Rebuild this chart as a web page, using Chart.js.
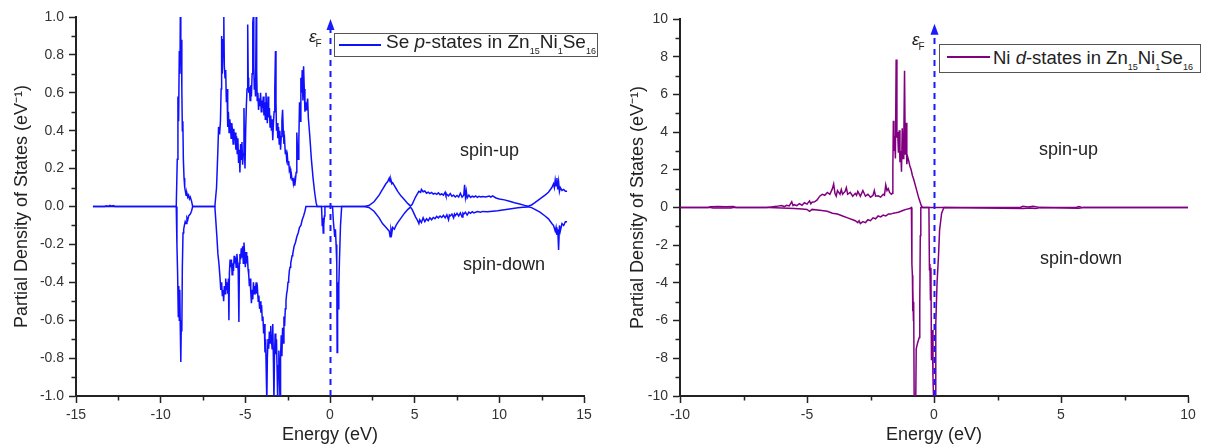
<!DOCTYPE html>
<html>
<head>
<meta charset="utf-8">
<title>Partial density of states: Zn15Ni1Se16</title>
<script src="https://cdn.jsdelivr.net/npm/chart.js@4.4.1/dist/chart.umd.min.js"></script>
<style>
  html, body { margin: 0; padding: 0; background: #fff; }
  body { width: 1205px; height: 446px; position: relative; overflow: hidden;
         font-family: "Liberation Sans", Arial, sans-serif; color: #222; }
  canvas { position: absolute; top: 0; }
  #pdosSe { left: 0; }
  #pdosNi { left: 604px; }
  .legend { position: absolute; border: 1px solid #555; background: #fff; box-sizing: border-box; white-space: nowrap; }
  .legend .sw { position: absolute; height: 2px; }
  .legend .tx { position: absolute; line-height: 22px; }
  .legend .sb { font-size: 9px; position: relative; top: 6px; }
  .note { position: absolute; font-size: 18px; line-height: 20px; white-space: nowrap; color: #222; }
  .ef { position: absolute; font-style: italic; font-size: 17px; line-height: 20px; color: #222; }
  .ef span { font-style: normal; font-size: 10px; position: relative; top: 5px; left: -1px; }
</style>
</head>
<body>
<canvas id="pdosSe" width="600" height="446"></canvas>
<canvas id="pdosNi" width="601" height="446"></canvas>

<div class="legend" style="left:334px;top:33px;width:264px;height:24px;">
  <div class="sw" style="left:4px;top:10px;width:42px;background:#1010ff;"></div>
  <div class="tx" style="left:51px;top:-3px;font-size:19px;">Se <i>p</i>-states in Zn<span class="sb">15</span>Ni<span class="sb">1</span>Se<span class="sb">16</span></div>
</div>
<div class="legend" style="left:939px;top:44px;width:262px;height:29px;">
  <div class="sw" style="left:7px;top:11px;width:43px;background:#800080;"></div>
  <div class="tx" style="left:53px;top:2px;font-size:18.5px;">Ni <i>d</i>-states in Zn<span class="sb">15</span>Ni<span class="sb">1</span>Se<span class="sb">16</span></div>
</div>

<div class="ef" style="left:309px;top:27px;">ε<span>F</span></div>
<div class="ef" style="left:912px;top:30px;">ε<span>F</span></div>

<div class="note" style="left:460px;top:140px;">spin-up</div>
<div class="note" style="left:463px;top:254px;">spin-down</div>
<div class="note" style="left:1039px;top:139px;">spin-up</div>
<div class="note" style="left:1040px;top:248px;">spin-down</div>

<script>
// Energies (eV) and partial DOS values (states/eV) for Se p-states, spin-up
const seUpE = [-14.0,-13.3,-13.2,-13.1,-13.0,-12.9,-12.8,-12.7,-9.08,-9.02,-8.98,-8.94,-8.9,-8.86,-8.84,-8.81,-8.78,-8.75,-8.72,-8.69,-8.66,-8.62,-8.58,-8.54,-8.5,-8.45,-8.4,-8.35,-8.3,-8.25,-8.18,-8.11,
  -6.8,-6.7,-6.62,-6.58,-6.52,-6.47,-6.43,-6.4,-6.36,-6.31,-6.27,-6.24,-6.2,-6.16,-6.12,-6.08,-6.04,-6.0,-5.96,-5.92,-5.88,-5.84,-5.8,-5.76,-5.72,-5.68,-5.64,-5.6,-5.56,-5.52,-5.48,-5.44,-5.4,-5.36,-5.32,-5.28,-5.24,-5.2,-5.16,-5.12,-5.08,-5.05,-5.02,-4.98,-4.94,-4.9,-4.86,-4.83,-4.8,-4.76,-4.72,-4.68,-4.64,-4.6,-4.56,-4.53,-4.5,-4.47,-4.44,-4.4,-4.36,-4.33,-4.3,-4.26,-4.22,-4.18,-4.14,-4.1,-4.06,-4.02,-3.98,-3.94,-3.9,-3.86,-3.82,-3.78,-3.74,-3.7,-3.66,-3.62,-3.58,-3.54,-3.5,-3.46,-3.42,-3.38,-3.34,-3.3,-3.26,-3.22,-3.19,-3.16,-3.12,-3.08,-3.04,-3.0,-2.96,-2.92,-2.88,-2.84,-2.8,-2.76,-2.72,-2.68,-2.64,-2.6,-2.56,-2.52,-2.48,-2.44,-2.4,-2.36,-2.32,-2.28,-2.24,-2.2,-2.16,-2.12,-2.08,-2.04,-2.0,-1.96,-1.92,-1.88,-1.84,-1.8,-1.76,-1.72,-1.68,-1.64,-1.6,-1.56,-1.52,-1.48,-1.44,-1.4,-1.36,-1.32,-1.28,-1.2,-1.1,-1.0,-0.9,-0.82,-0.76,
  2.0,2.3,2.6,2.9,3.1,3.3,3.4,3.5,3.55,3.6,3.65,3.7,3.8,3.9,4.0,4.2,4.4,4.6,4.75,4.85,4.95,5.05,5.15,5.25,5.35,5.4,5.5,5.6,5.7,5.8,5.9,6.0,6.1,6.2,6.3,6.4,6.5,6.6,6.7,6.8,6.85,6.9,7.0,7.1,7.2,7.3,7.4,7.5,7.6,7.7,7.8,7.9,7.95,8.0,8.05,8.1,8.2,8.3,8.4,8.5,8.6,8.7,8.8,8.9,9.0,9.2,9.4,9.5,9.6,9.8,10.0,10.3,10.6,10.9,11.2,11.5,11.7,11.9,12.1,12.4,12.7,12.9,13.1,13.2,13.25,13.3,13.35,13.4,13.45,13.5,13.55,13.6,13.7,13.8,13.9,14.0];
const seUpV = [0,0,0.004,0,0.006,0.002,0.005,0,0,0.25,0.58,0.45,0.82,0.7,1.0,0.75,0.88,0.62,0.4,0.45,0.25,0.15,0.1,0.08,0.06,0.07,0.05,0.06,0.04,0.05,0.03,0,
  0,0.1,0.3,0.42,0.38,0.45,0.62,0.9,0.7,0.88,1.0,0.74,0.68,0.72,0.55,0.62,0.42,0.5,0.39,0.46,0.43,0.36,0.44,0.4,0.33,0.41,0.35,0.39,0.3,0.37,0.28,0.36,0.23,0.3,0.18,0.33,0.25,0.34,0.22,0.28,0.52,0.3,0.2,0.4,0.53,0.62,0.96,0.68,0.6,0.63,0.56,0.64,0.58,0.7,0.97,1.0,0.74,0.62,0.68,0.58,1.0,0.72,0.56,0.6,0.51,0.57,0.53,0.6,0.5,0.56,0.52,0.58,0.48,0.55,0.46,0.6,0.5,0.44,0.58,0.47,0.52,0.42,0.48,0.4,0.46,0.35,0.44,0.5,0.62,0.82,0.55,0.4,0.44,0.36,0.42,0.33,0.4,0.3,0.37,0.45,0.51,0.4,0.33,0.35,0.28,0.3,0.25,0.27,0.22,0.24,0.19,0.2,0.16,0.17,0.14,0.15,0.12,0.14,0.11,0.14,0.18,0.39,0.3,0.25,0.35,0.55,0.45,0.68,0.6,0.72,0.56,0.74,0.62,0.5,0.55,0.51,0.54,0.57,0.47,0.38,0.25,0.15,0.07,0.02,0,
  0,0.005,0.025,0.06,0.09,0.12,0.13,0.15,0.13,0.14,0.12,0.125,0.11,0.095,0.08,0.055,0.035,0.015,0.003,0.01,0.03,0.05,0.065,0.08,0.075,0.09,0.078,0.082,0.07,0.076,0.068,0.074,0.066,0.07,0.064,0.072,0.062,0.067,0.06,0.075,0.058,0.064,0.056,0.068,0.054,0.06,0.05,0.058,0.05,0.07,0.05,0.06,0.115,0.05,0.08,0.045,0.06,0.048,0.055,0.05,0.056,0.048,0.054,0.05,0.053,0.05,0.055,0.05,0.056,0.045,0.04,0.035,0.028,0.02,0.013,0.006,0.002,0.008,0.02,0.04,0.06,0.075,0.1,0.12,0.1,0.14,0.11,0.15,0.09,0.13,0.08,0.1,0.085,0.09,0.08,0.08];

// Se p-states, spin-down
const seDnE = [-14.0,-9.08,-9.04,-9.0,-8.96,-8.93,-8.9,-8.87,-8.84,-8.81,-8.78,-8.75,-8.72,-8.68,-8.64,-8.6,-8.55,-8.5,-8.45,-8.4,-8.35,-8.3,-8.25,-8.18,-8.11,
  -6.8,-6.74,-6.68,-6.62,-6.56,-6.5,-6.45,-6.4,-6.36,-6.32,-6.28,-6.24,-6.2,-6.16,-6.12,-6.08,-6.04,-6.0,-5.97,-5.94,-5.9,-5.86,-5.82,-5.78,-5.74,-5.7,-5.66,-5.62,-5.58,-5.54,-5.5,-5.46,-5.42,-5.38,-5.35,-5.32,-5.28,-5.24,-5.2,-5.16,-5.12,-5.08,-5.04,-5.0,-4.96,-4.92,-4.88,-4.84,-4.8,-4.76,-4.72,-4.68,-4.64,-4.6,-4.56,-4.52,-4.48,-4.44,-4.4,-4.36,-4.32,-4.28,-4.24,-4.2,-4.16,-4.12,-4.08,-4.04,-4.0,-3.96,-3.92,-3.88,-3.84,-3.8,-3.76,-3.73,-3.7,-3.66,-3.62,-3.58,-3.54,-3.5,-3.46,-3.42,-3.38,-3.34,-3.31,-3.28,-3.24,-3.2,-3.16,-3.12,-3.09,-3.06,-3.02,-2.98,-2.95,-2.92,-2.88,-2.84,-2.8,-2.76,-2.72,-2.68,-2.64,-2.6,-2.56,-2.52,-2.48,-2.44,-2.4,-2.36,-2.32,-2.28,-2.24,-2.2,-2.12,-2.04,-1.96,-1.88,-1.8,-1.72,-1.64,-1.56,-1.48,-1.42,
  -0.5,-0.46,-0.43,-0.4,-0.37,-0.33,-0.3,0.15,0.2,0.24,0.28,0.32,0.36,0.4,0.42,0.45,0.48,0.52,0.56,0.62,0.69,
  2.0,2.3,2.6,2.9,3.1,3.3,3.4,3.5,3.55,3.6,3.65,3.7,3.8,3.9,4.0,4.2,4.4,4.6,4.75,4.85,4.95,5.05,5.15,5.25,5.3,5.4,5.5,5.6,5.7,5.8,5.9,6.0,6.1,6.2,6.3,6.4,6.5,6.6,6.7,6.8,6.9,7.0,7.05,7.1,7.2,7.3,7.35,7.4,7.5,7.6,7.7,7.8,7.85,7.9,8.0,8.1,8.2,8.3,8.4,8.5,8.7,8.9,9.0,9.3,9.6,9.9,10.2,10.5,10.8,11.1,11.4,11.7,11.9,12.1,12.4,12.7,12.9,13.1,13.2,13.3,13.35,13.4,13.45,13.5,13.55,13.6,13.7,13.8,13.9,14.0];
const seDnV = [0,0,-0.2,-0.35,-0.58,-0.42,-0.6,-0.44,-0.65,-0.82,-0.6,-0.66,-0.32,-0.14,-0.12,-0.1,-0.08,-0.09,-0.06,-0.07,-0.05,-0.045,-0.04,-0.025,0,
  0,-0.08,-0.16,-0.25,-0.3,-0.37,-0.44,-0.4,-0.47,-0.44,-0.5,-0.42,-0.46,-0.38,-0.44,-0.4,-0.46,-0.38,-0.6,-0.35,-0.28,-0.32,-0.28,-0.36,-0.3,-0.34,-0.26,-0.3,-0.27,-0.32,-0.25,-0.29,-0.34,-0.61,-0.3,-0.25,-0.28,-0.22,-0.27,-0.21,-0.3,-0.19,-0.25,-0.32,-0.24,-0.3,-0.26,-0.33,-0.36,-0.42,-0.38,-0.45,-0.51,-0.44,-0.49,-0.4,-0.46,-0.42,-0.44,-0.4,-0.46,-0.44,-0.5,-0.47,-0.54,-0.5,-0.56,-0.52,-0.6,-0.58,-0.67,-0.62,-0.77,-0.7,-0.9,-1.03,-0.8,-0.7,-0.75,-0.66,-0.72,-0.63,-0.7,-0.75,-0.62,-0.82,-1.03,-0.8,-0.67,-0.78,-0.7,-0.88,-1.03,-0.84,-0.76,-0.92,-1.03,-0.8,-0.68,-0.79,-0.64,-0.72,-0.58,-0.63,-0.54,-0.5,-0.46,-0.44,-0.4,-0.38,-0.34,-0.32,-0.3,-0.28,-0.26,-0.25,-0.21,-0.19,-0.16,-0.14,-0.11,-0.1,-0.07,-0.05,-0.025,0,
  0,-0.1,-0.06,-0.14,-0.1,-0.05,0,0,-0.08,-0.12,-0.16,-0.12,-0.2,-0.3,-0.77,-0.4,-0.54,-0.42,-0.28,-0.1,0,
  0,-0.005,-0.025,-0.06,-0.09,-0.11,-0.12,-0.13,-0.16,-0.12,-0.14,-0.11,-0.12,-0.1,-0.085,-0.06,-0.035,-0.015,-0.003,-0.015,-0.035,-0.055,-0.07,-0.09,-0.07,-0.085,-0.06,-0.08,-0.065,-0.075,-0.06,-0.07,-0.058,-0.064,-0.052,-0.06,-0.05,-0.058,-0.046,-0.06,-0.044,-0.07,-0.045,-0.05,-0.04,-0.06,-0.04,-0.048,-0.036,-0.05,-0.034,-0.055,-0.035,-0.04,-0.03,-0.045,-0.03,-0.036,-0.028,-0.034,-0.027,-0.03,-0.026,-0.028,-0.025,-0.022,-0.018,-0.014,-0.01,-0.007,-0.004,-0.002,-0.006,-0.015,-0.03,-0.05,-0.065,-0.09,-0.1,-0.13,-0.11,-0.15,-0.12,-0.23,-0.1,-0.13,-0.09,-0.1,-0.08,-0.08];

// Ni d-states, spin-up
const niUpE = [-10,-8.9,-8.8,-8.5,-8.2,-7.9,-7.8,-6.6,-6.4,-6.2,-6.0,-5.9,-5.8,-5.7,-5.6,-5.55,-5.5,-5.4,-5.3,-5.2,-5.1,-5.0,-4.9,-4.85,-4.8,-4.7,-4.6,-4.5,-4.4,-4.3,-4.2,-4.1,-4.0,-3.95,-3.9,-3.85,-3.8,-3.7,-3.65,-3.6,-3.5,-3.45,-3.4,-3.3,-3.2,-3.1,-3.05,-3.0,-2.9,-2.85,-2.8,-2.7,-2.6,-2.5,-2.4,-2.35,-2.3,-2.2,-2.1,-2.0,-1.95,-1.9,-1.85,-1.8,-1.75,-1.68,-1.64,-1.62,-1.6,-1.58,-1.55,-1.52,-1.49,-1.46,-1.43,-1.4,-1.37,-1.34,-1.31,-1.28,-1.25,-1.22,-1.19,-1.16,-1.13,-1.1,-1.07,-1.04,-1.0,-0.95,-0.9,-0.85,-0.8,-0.7,-0.6,-0.5,-0.45,
  3.4,3.5,3.7,3.9,4.1,4.2,5.6,5.7,5.8,5.9,10];
const niUpV = [0,0,0.04,0.05,0.04,0.05,0,0,0.03,0.06,0.1,0.05,0.12,0.08,0.3,0.1,0.15,0.1,0.2,0.12,0.25,0.18,0.35,0.2,0.28,0.3,0.4,0.6,0.7,0.65,0.8,0.7,1.0,1.25,0.75,0.6,0.9,0.7,0.95,0.7,0.85,1.05,0.7,0.8,0.6,0.75,0.65,0.85,0.6,0.75,0.9,0.6,0.7,0.55,0.65,0.9,0.6,0.62,0.55,0.7,0.65,1.2,0.9,1.0,0.8,0.7,0.75,2.0,4.6,3.0,3.8,2.6,7.85,3.7,4.0,2.9,4.1,2.4,3.0,1.9,4.2,2.6,3.4,7.25,2.8,4.5,2.3,2.7,2.5,2.2,2.0,1.7,1.5,1.0,0.5,0.1,0,
  0,0.06,0.03,0.06,0.02,0,0,0.05,0.02,0,0];

// Ni d-states, spin-down
const niDnE = [-10,-8.8,-8.7,-8.0,-7.9,-6.5,-6.0,-5.5,-5.2,-5.0,-4.9,-4.8,-4.5,-4.2,-4.0,-3.8,-3.6,-3.4,-3.2,-3.1,-3.0,-2.95,-2.9,-2.8,-2.7,-2.6,-2.5,-2.4,-2.3,-2.2,-2.1,-2.0,-1.9,-1.8,-1.7,-1.6,-1.5,-1.4,-1.3,-1.2,-1.1,-0.95,-0.89,
  -0.87,-0.85,-0.84,-0.83,-0.81,-0.8,-0.78,-0.72,-0.7,-0.65,-0.58,-0.56,-0.54,-0.52,-0.2,-0.18,-0.16,-0.14,-0.12,-0.1,-0.07,-0.04,-0.01,0.04,0.07,0.12,0.18,0.22,0.3,0.39,
  3.5,3.8,4.0,4.2,5.7,5.9,10];
const niDnV = [0,0,-0.03,-0.03,0,0,-0.02,-0.05,-0.08,-0.1,-0.2,-0.1,-0.15,-0.2,-0.3,-0.35,-0.45,-0.55,-0.65,-0.7,-0.8,-0.7,-0.85,-0.75,-0.8,-0.65,-0.7,-0.55,-0.6,-0.45,-0.5,-0.4,-0.45,-0.35,-0.35,-0.3,-0.28,-0.25,-0.2,-0.15,-0.1,-0.05,0,
  -3.0,-3.6,-5.5,-4.2,-6.0,-5.0,-10.5,-10.5,-7.5,-7.2,-6.9,-5.0,-1.5,0,0,-3.3,-3.0,-4.9,-3.2,-8.1,-6.5,-9.0,-10.5,-10.5,-6.2,-4.0,-2.5,-1.2,-0.3,0,
  -0.05,-0.03,-0.05,0,-0.04,0,0];

const FONT = '"Liberation Sans", Arial, sans-serif';
const AXIS = '#222';
const TICK_TEXT = '#333';
const FERMI_BLUE = '#1a1aff';

const pairs = (e, v) => e.map((x, i) => ({ x, y: v[i] }));

// Short ticks halfway between the labelled ones
const minorTicks = {
  id: 'minorTicks',
  afterDraw(chart) {
    const { ctx, chartArea: a, scales: { x, y } } = chart;
    ctx.save();
    ctx.strokeStyle = AXIS;
    ctx.lineWidth = 1.5;
    ctx.beginPath();
    for (let i = 0; i < x.ticks.length - 1; i++) {
      const px = Math.round(x.getPixelForValue((x.ticks[i].value + x.ticks[i + 1].value) / 2)) + 0.5;
      ctx.moveTo(px, a.bottom); ctx.lineTo(px, a.bottom + 4.5);
    }
    for (let i = 0; i < y.ticks.length - 1; i++) {
      const py = Math.round(y.getPixelForValue((y.ticks[i].value + y.ticks[i + 1].value) / 2)) + 0.5;
      ctx.moveTo(a.left, py); ctx.lineTo(a.left - 4.5, py);
    }
    ctx.stroke();
    ctx.restore();
  }
};

// Dashed arrow marking the Fermi level at E = 0
const fermiArrow = {
  id: 'fermiArrow',
  afterDatasetsDraw(chart, args, opts) {
    const { ctx, chartArea: a, scales: { x, y } } = chart;
    const px = Math.round(x.getPixelForValue(0)) + 0.5;
    const tip = y.getPixelForValue(opts.top);
    ctx.save();
    ctx.strokeStyle = FERMI_BLUE;
    ctx.fillStyle = FERMI_BLUE;
    ctx.lineWidth = 2;
    ctx.setLineDash([6, 5]);
    ctx.beginPath();
    ctx.moveTo(px, a.bottom);
    ctx.lineTo(px, tip + 9);
    ctx.stroke();
    ctx.setLineDash([]);
    ctx.beginPath();
    ctx.moveTo(px, tip);
    ctx.lineTo(px - 4, tip + 11);
    ctx.lineTo(px + 4, tip + 11);
    ctx.closePath();
    ctx.fill();
    ctx.restore();
  }
};

function makePanel(id, cfg) {
  return new Chart(document.getElementById(id), {
    type: 'scatter',
    data: {
      datasets: [
        { label: 'spin-up', data: pairs(cfg.upE, cfg.upV) },
        { label: 'spin-down', data: pairs(cfg.dnE, cfg.dnV) }
      ].map(d => Object.assign(d, {
        showLine: true, borderColor: cfg.color, borderWidth: 1.5,
        pointRadius: 0, pointHoverRadius: 0, tension: 0, fill: false
      }))
    },
    options: {
      responsive: false,
      animation: false,
      events: [],
      layout: { padding: cfg.padding },
      plugins: {
        legend: { display: false },
        tooltip: { enabled: false },
        fermiArrow: { top: cfg.arrowTop }
      },
      scales: {
        x: {
          type: 'linear', min: cfg.xMin, max: cfg.xMax,
          ticks: { stepSize: cfg.xStep, color: TICK_TEXT, font: { family: FONT, size: 14 }, padding: 4, maxRotation: 0, autoSkip: false },
          grid: { drawOnChartArea: false, drawTicks: true, tickLength: 7, tickColor: AXIS, tickWidth: 1.5 },
          border: { display: true, color: AXIS, width: 2 },
          title: { display: true, text: 'Energy (eV)', color: '#222', font: { family: FONT, size: 18 }, padding: { top: 0, bottom: 0 } },
          afterFit(s) { s.height = 50; }
        },
        y: {
          type: 'linear', min: cfg.yMin, max: cfg.yMax,
          ticks: { stepSize: cfg.yStep, color: TICK_TEXT, font: { family: FONT, size: 14 }, padding: 5, autoSkip: false,
                   callback: v => cfg.yDigits ? Number(v).toFixed(cfg.yDigits) : String(Math.round(v)) },
          grid: { drawOnChartArea: false, drawTicks: true, tickLength: 7, tickColor: AXIS, tickWidth: 1.5 },
          border: { display: true, color: AXIS, width: 2 },
          title: { display: true, text: 'Partial Density of States (eV⁻¹)', color: '#222', font: { family: FONT, size: 18 }, padding: { top: 0, bottom: 0 } },
          afterFit(s) { s.width = cfg.yWidth; }
        }
      }
    },
    plugins: [minorTicks, fermiArrow]
  });
}

makePanel('pdosSe', {
  upE: seUpE, upV: seUpV, dnE: seDnE, dnV: seDnV, color: '#1010ff',
  xMin: -15, xMax: 15, xStep: 5, yMin: -1, yMax: 1, yStep: 0.2, yDigits: 1,
  padding: { left: 11, right: 16, top: 17, bottom: 0 }, yWidth: 65, arrowTop: 0.99
});

makePanel('pdosNi', {
  upE: niUpE, upV: niUpV, dnE: niDnE, dnV: niDnV, color: '#800080',
  xMin: -10, xMax: 10, xStep: 5, yMin: -10, yMax: 10, yStep: 2, yDigits: 0,
  padding: { left: 23, right: 17, top: 19, bottom: 0 }, yWidth: 53, arrowTop: 9.75
});
</script>
</body>
</html>
